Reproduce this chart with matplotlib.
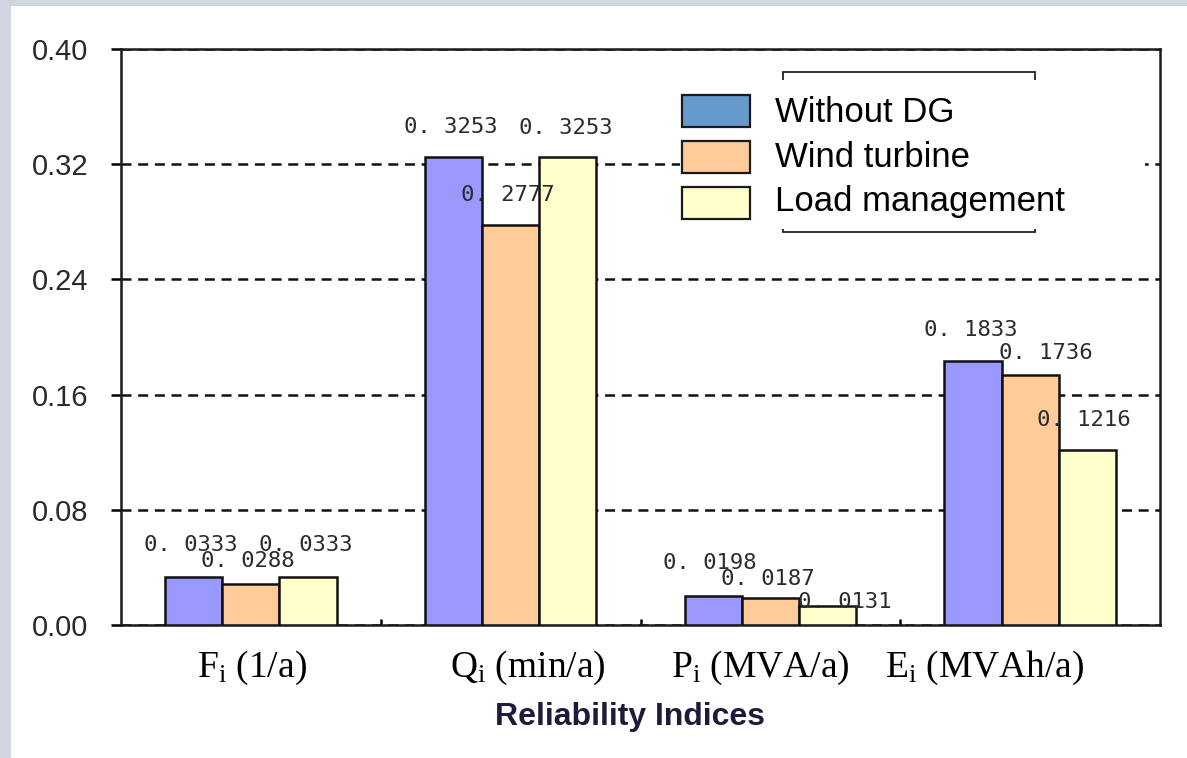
import matplotlib
matplotlib.use("Agg")
import matplotlib.pyplot as plt
from matplotlib.patches import Rectangle
import numpy as np

# ---- data -------------------------------------------------------------
categories = [r"$\mathrm{F_i}$ (1/a)", r"$\mathrm{Q_i}$ (min/a)",
              r"$\mathrm{P_i}$ (MVA/a)", r"$\mathrm{E_i}$ (MVAh/a)"]
series_names = ["Without DG", "Wind turbine", "Load management"]
without_dg = [0.0333, 0.3253, 0.0198, 0.1833]
wind_turbine = [0.0288, 0.2777, 0.0187, 0.1736]
load_management = [0.0333, 0.3253, 0.0131, 0.1216]
y_ticks = [0.00, 0.08, 0.16, 0.24, 0.32, 0.40]
x_title = "Reliability Indices"

# ---- style ------------------------------------------------------------
W, H = 1187, 758
bar_colors = ["#9999FF", "#FFCC99", "#FFFFCC"]
legend_colors = ["#6699CC", "#FFCC99", "#FFFFCC"]
bar_width = 0.22
lw = 1.8

# value-label nudges (pixels) so the numbers sit where they fit
label_nudge = [
    [(-3, 32), (-3, 30), (-3, 33), (-2, 31)],
    [(-3, 23), (-3, 30), (-3, 19), (16, 22)],
    [(-2, 32), (-2, 29), (17, 4), (-3, 30)],
]
cat_label_shift = [1, 17, -10, -45]

plt.rcParams["mathtext.fontset"] = "custom"
plt.rcParams["mathtext.rm"] = "Liberation Serif"
plt.rcParams["mathtext.it"] = "Liberation Serif:italic"


def fx(px):
    return px / W


def fy(py):
    return 1 - py / H


fig = plt.figure(figsize=(W / 100, H / 100), dpi=100, facecolor="white")

# light frame strips on the left and top edges
fig.patches.append(Rectangle((0, 0), fx(11), 1, transform=fig.transFigure,
                             facecolor="#D1D5DF", edgecolor="none", zorder=-5))
fig.patches.append(Rectangle((0, fy(6)), 1, 1 - fy(6), transform=fig.transFigure,
                             facecolor="#D1D5DF", edgecolor="none", zorder=-5))

ax = fig.add_axes([fx(121), fy(625), fx(1160) - fx(121), fy(49) - fy(625)])

x = np.arange(len(categories))
series = [without_dg, wind_turbine, load_management]
for k, vals in enumerate(series):
    xs = x + (k - 1) * bar_width
    ax.bar(xs, vals, width=bar_width, color=bar_colors[k], edgecolor="#111111",
           linewidth=lw, zorder=3)
    for i, v in enumerate(vals):
        dx, dy = label_nudge[k][i]
        ax.annotate(f"{v:.4f}".replace(".", ". "), xy=(xs[i], v),
                    xytext=(dx, dy), textcoords="offset pixels",
                    ha="center", va="center", fontsize=16,
                    family="DejaVu Sans Mono", color="#2b2b2b", zorder=4)

ax.set_xlim(-0.5, len(categories) - 0.5)
ax.set_ylim(0, 0.40)
ax.set_yticks(y_ticks)
ax.set_yticklabels([f"{t:.2f}" for t in y_ticks], fontsize=21,
                   family="Liberation Sans", color="#2a2a2a")
ax.tick_params(axis="y", direction="out", length=7, width=lw, pad=16.5)

ax.set_xticks(x)
ax.set_xticklabels([])
ax.tick_params(axis="x", which="major", length=0)
ax.set_xticks(np.arange(len(categories) - 1) + 0.5, minor=True)
ax.tick_params(axis="x", which="minor", direction="in", length=4, width=lw)

for i, lab in enumerate(categories):
    ax.annotate(lab, xy=(i, 0), xycoords=("data", "axes fraction"),
                xytext=(cat_label_shift[i], -52), textcoords="offset pixels",
                ha="center", va="baseline", fontsize=27,
                family="Liberation Serif", color="black")

ax.yaxis.grid(True, linestyle=(0, (4.0, 2.67)), color="#111111", linewidth=lw)
ax.set_axisbelow(True)
for s in ax.spines.values():
    s.set_linewidth(lw)
    s.set_color("#1a1a1a")

fig.text(fx(630), fy(725), x_title, ha="center", va="baseline",
         fontsize=23, fontweight="bold", family="Liberation Sans",
         color="#1c1c3a")

# legend: outer frame partly covered by a white panel holding the entries
fig.patches.append(Rectangle((fx(783), fy(232)), fx(1035) - fx(783),
                             fy(72) - fy(232), transform=fig.transFigure,
                             facecolor="white", edgecolor="#222222",
                             linewidth=1.3, zorder=5))
fig.patches.append(Rectangle((fx(680), fy(229)), fx(1145) - fx(680),
                             fy(80) - fy(229), transform=fig.transFigure,
                             facecolor="white", edgecolor="none", zorder=6))
patch_tops = [95, 141, 187]
text_baselines = [122, 167, 211]
for k, name in enumerate(series_names):
    t = patch_tops[k]
    fig.patches.append(Rectangle((fx(682), fy(t + 32)), fx(750) - fx(682),
                                 fy(t) - fy(t + 32), transform=fig.transFigure,
                                 facecolor=legend_colors[k], edgecolor="#1a1a1a",
                                 linewidth=1.6, zorder=7))
    fig.text(fx(775), fy(text_baselines[k]), name, ha="left", va="baseline",
             fontsize=25, family="Liberation Sans", color="black", zorder=7)

fig.savefig("out.png", dpi=100, facecolor="white")
